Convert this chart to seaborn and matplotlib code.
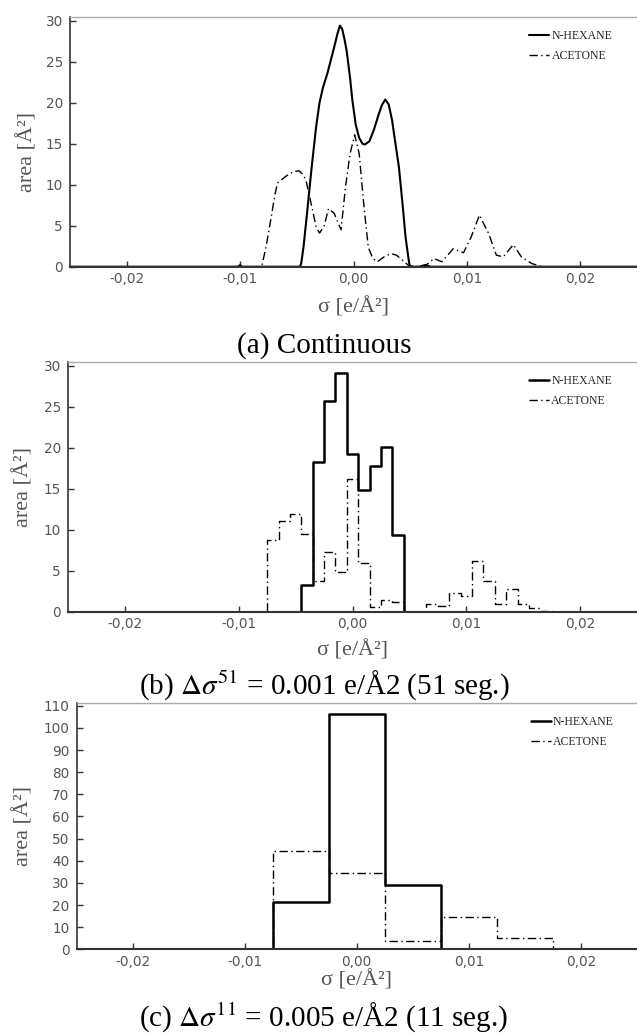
import numpy as np
import pandas as pd
import matplotlib
matplotlib.use("Agg")
import matplotlib.pyplot as plt
import seaborn as sns
from matplotlib.ticker import FuncFormatter, MultipleLocator

# ---------------- data ----------------
# (a) continuous sigma profiles
sigma_hex_cont = [-0.025, -0.0058, -0.0047, -0.0046, -0.0044, -0.0041, -0.0037, -0.0033, -0.0030,
                  -0.0027, -0.0023, -0.0017, -0.0014, -0.0012, -0.0010, -0.0008, -0.0006, -0.0003,
                  -0.0001, 0.0002, 0.0005, 0.0008, 0.0010, 0.0014, 0.0018, 0.0022, 0.0025, 0.0028,
                  0.0031, 0.0034, 0.0037, 0.0040, 0.0043, 0.0046, 0.0049, 0.0050, 0.0058, 0.0063,
                  0.0068, 0.025]
area_hex_cont = [0, 0, 0, 0.5, 2.5, 6.5, 12.0, 17.0, 20.0,
                 21.8, 23.6, 26.8, 28.5, 29.4, 29.0, 27.8, 26.3, 23.0,
                 20.3, 17.3, 15.7, 15.0, 14.9, 15.3, 16.7, 18.5, 19.7, 20.4,
                 19.8, 17.9, 15.0, 12.2, 8.0, 3.5, 0.5, 0, 0, 0.2,
                 0, 0]

sigma_ace_cont = [-0.025, -0.0102, -0.0100, -0.0098, -0.0081, -0.0077, -0.0073, -0.0069, -0.0067,
                  -0.0060, -0.0053, -0.0048, -0.0045, -0.0042, -0.0038, -0.0033, -0.0030, -0.0026,
                  -0.0022, -0.0017, -0.0011, -0.0007, -0.0003, 0.0001, 0.0005, 0.0009, 0.0013,
                  0.0017, 0.0021, 0.0027, 0.0033, 0.0038, 0.0044, 0.0049, 0.0060, 0.0065, 0.0071,
                  0.0078, 0.0088, 0.0097, 0.0104, 0.0111, 0.0119, 0.0126, 0.0132, 0.0141, 0.0148,
                  0.0157, 0.0166, 0.025]
area_ace_cont = [0, 0, 0.25, 0, 0, 2.5, 5.7, 9.0, 10.2,
                 11.0, 11.6, 11.7, 11.3, 10.6, 8.1, 4.9, 4.1, 4.9,
                 7.1, 6.5, 4.5, 9.8, 13.8, 16.1, 13.8, 7.7, 2.4,
                 1.0, 0.6, 1.2, 1.6, 1.4, 0.7, 0.1, 0.0, 0.3, 1.0,
                 0.6, 2.2, 1.7, 3.7, 6.3, 4.1, 1.4, 1.2, 2.7, 1.2,
                 0.4, 0.0, 0]

# (b) 51 segments, delta sigma = 0.001 (bin centres -0.025 ... 0.025)
sigma_51 = np.round(np.arange(-25, 26) * 0.001, 3)
hex_51 = [0, 0, 0, 0, 0, 0, 0, 0, 0, 0,
          0, 0, 0, 0, 0, 0, 0, 0, 0, 0,
          0, 3.25, 18.3, 25.7, 29.1, 19.2, 14.9, 17.8, 20.1, 9.4,
          0, 0, 0, 0, 0, 0, 0, 0, 0, 0,
          0, 0, 0, 0, 0, 0, 0, 0, 0, 0, 0]
ace_51 = [0, 0, 0, 0, 0, 0, 0, 0, 0, 0,
          0, 0, 0, 0, 0, 0, 0, 0, 8.8, 11.1,
          11.9, 9.5, 3.7, 7.3, 4.8, 16.2, 5.9, 0.6, 1.4, 1.2,
          0, 0, 1.0, 0.7, 2.3, 1.9, 6.2, 3.8, 1.0, 2.8,
          0.9, 0.4, 0.1, 0, 0, 0, 0, 0, 0, 0, 0]

# (c) 11 segments, delta sigma = 0.005
sigma_11 = [-0.025, -0.020, -0.015, -0.010, -0.005, 0.0, 0.005, 0.010, 0.015, 0.020, 0.025]
hex_11 = [0, 0, 0, 0, 21.2, 106.1, 29.0, 0, 0, 0, 0]
ace_11 = [0, 0, 0, 0, 44.4, 34.3, 3.7, 14.4, 5.2, 0, 0]

series_names = ["N-HEXANE", "ACETONE"]
xticks = [-0.02, -0.01, 0.0, 0.01, 0.02]
captions = ["(a) Continuous",
            r"(b) $\Delta\sigma^{51}$ = 0.001 e/Å2 (51 seg.)",
            r"(c) $\Delta\sigma^{11}$ = 0.005 e/Å2 (11 seg.)"]

# ---------------- style ----------------
sns.set_theme(style="white")
plt.rcParams["font.family"] = ["DejaVu Sans"]
plt.rcParams["mathtext.fontset"] = "stix"

W, H = 637, 1033
fig = plt.figure(figsize=(W / 100, H / 100), dpi=100)

def make_axes(left, top, bottom, right=637):
    return fig.add_axes([left / W, 1 - bottom / H, (right - left) / W, (bottom - top) / H])

ax_a = make_axes(70, 16.7, 266.7)
ax_b = make_axes(68, 361.7, 611.7)
ax_c = make_axes(76.5, 703.3, 949.3)

ace_dash = (0, (6, 2.5, 1, 2.5))

# (a)
sns.lineplot(x=sigma_hex_cont, y=area_hex_cont, ax=ax_a, color="black", lw=1.5,
             label=series_names[0], sort=False, estimator=None)
sns.lineplot(x=sigma_ace_cont, y=area_ace_cont, ax=ax_a, color="black", lw=1.0,
             linestyle=ace_dash, label=series_names[1], sort=False, estimator=None)
# (b)
sns.lineplot(x=sigma_51, y=hex_51, ax=ax_b, color="black", lw=1.8, drawstyle="steps-mid",
             label=series_names[0], sort=False, estimator=None)
sns.lineplot(x=sigma_51, y=ace_51, ax=ax_b, color="black", lw=1.0, drawstyle="steps-mid",
             linestyle=ace_dash, label=series_names[1], sort=False, estimator=None)
# (c)
sns.lineplot(x=sigma_11, y=hex_11, ax=ax_c, color="black", lw=1.8, drawstyle="steps-mid",
             label=series_names[0], sort=False, estimator=None)
sns.lineplot(x=sigma_11, y=ace_11, ax=ax_c, color="black", lw=1.0, drawstyle="steps-mid",
             linestyle=ace_dash, label=series_names[1], sort=False, estimator=None)

fmt = FuncFormatter(lambda v, p: ("%.2f" % (0.0 if abs(v) < 1e-9 else v)).replace(".", ","))

settings = [
    (ax_a, 30.5, 5, -0.121, (-0.058, 0.459), 0.81),
    (ax_b, 30.5, 5, -0.113, (-0.0615, 0.5), 0.81),
    (ax_c, 111.1, 10, -0.084, (-0.0776, 0.5), 0.81),
]
for ax, ymax, ystep, xlab_y, ylab_xy, leg_x in settings:
    ax.set_xlim(-0.025, 0.025)
    ax.set_ylim(0, ymax)
    ax.set_xticks(xticks)
    ax.xaxis.set_major_formatter(fmt)
    ax.yaxis.set_major_locator(MultipleLocator(ystep))
    ax.tick_params(axis="both", direction="in", length=4, width=1, colors="#333333",
                   labelcolor="#555555", labelsize=9.8)
    ax.tick_params(axis="x", pad=4, bottom=True, top=False)
    ax.tick_params(axis="y", pad=5, left=True, right=False)
    for lab in ax.get_xticklabels() + ax.get_yticklabels():
        lab.set_family("DejaVu Sans")
    ax.spines["right"].set_visible(False)
    ax.spines["top"].set_color("#aaaaaa")
    ax.spines["top"].set_linewidth(1.0)
    ax.spines["left"].set_color("#333333")
    ax.spines["left"].set_linewidth(1.2)
    ax.spines["bottom"].set_color("#333333")
    ax.spines["bottom"].set_linewidth(1.5)
    ax.set_xlabel("σ [e/Å²]", family="Liberation Serif", fontsize=16, color="#555555")
    ax.set_ylabel("area [Å²]", family="Liberation Serif", fontsize=16, color="#555555")
    ax.xaxis.set_label_coords(0.5, xlab_y)
    ax.yaxis.set_label_coords(*ylab_xy)
    ax.legend(loc="upper left", bbox_to_anchor=(leg_x, 0.948), frameon=False,
              prop={"family": "Liberation Serif", "size": 8.5}, handlelength=1.7,
              handletextpad=0.2, labelspacing=0.7, borderpad=0, borderaxespad=0)
    ax.set_facecolor("white")

cap_y = [346, 686, 1018]
for txt, y in zip(captions, cap_y):
    fig.text(324 / W, 1 - y / H, txt, ha="center", va="center", fontsize=21,
             family="Liberation Serif", color="black")

fig.savefig("out.png", dpi=100, facecolor="white")
